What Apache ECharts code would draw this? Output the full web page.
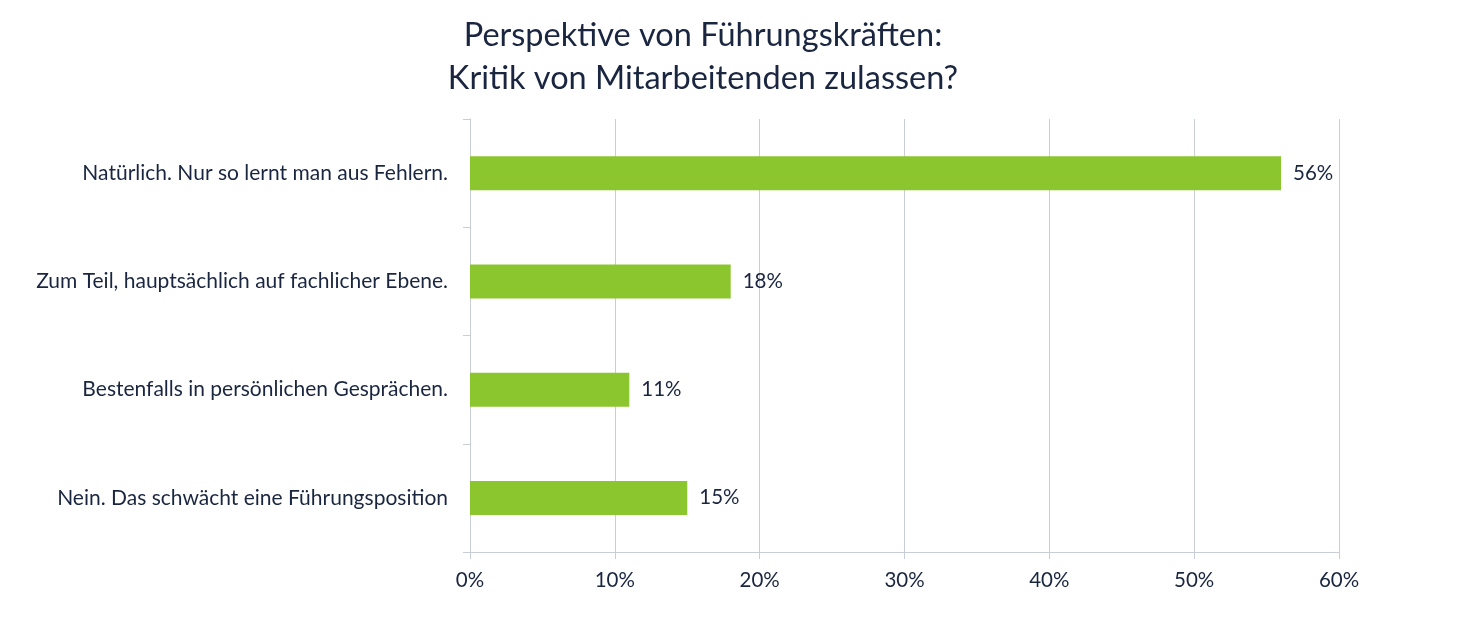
<!DOCTYPE html>
<html><head><meta charset="utf-8">
<script src="https://cdn.jsdelivr.net/npm/echarts@6/dist/echarts.min.js"></script>
<style>html,body{margin:0;padding:0;background:#fff}#c{width:1463px;height:626px}</style>
</head><body><div id="c"></div>
<script>
const titleLines = ["Perspektive von Führungskräften:", "Kritik von Mitarbeitenden zulassen?"];
const categories = [
  "Natürlich. Nur so lernt man aus Fehlern.",
  "Zum Teil, hauptsächlich auf fachlicher Ebene.",
  "Bestenfalls in persönlichen Gesprächen.",
  "Nein. Das schwächt eine Führungsposition"
];
const values = [56, 18, 11, 15];
const xTicks = [0, 10, 20, 30, 40, 50, 60];

const textColor = '#1a2640';
const axisColor = '#c9ced6';
const font = 'Lato, "Noto Sans", sans-serif';
const chart = echarts.init(document.getElementById('c'), null, {renderer: 'canvas'});
chart.setOption({
  animation: false,
  title: {
    text: titleLines.join('\n'),
    left: 698, top: 9, textAlign: 'center',
    textStyle: {fontFamily: font, fontSize: 32.5, fontWeight: 'normal', color: textColor, lineHeight: 43}
  },
  grid: {left: 470, right: 124, top: 119, bottom: 74, containLabel: false},
  xAxis: {
    type: 'value', min: xTicks[0], max: xTicks[xTicks.length - 1], interval: 10,
    axisLine: {show: true, lineStyle: {color: axisColor, width: 1}},
    axisTick: {show: true, length: 7, lineStyle: {color: axisColor}},
    splitLine: {show: true, lineStyle: {color: axisColor, width: 1}},
    axisLabel: {formatter: v => v + '%', fontFamily: font, fontSize: 20.5, color: textColor, margin: 18}
  },
  yAxis: {
    type: 'category', data: categories, inverse: true,
    axisLine: {show: true, lineStyle: {color: axisColor}},
    axisTick: {show: true, length: 7, alignWithLabel: false, lineStyle: {color: axisColor}},
    axisLabel: {fontFamily: font, fontSize: 21, color: textColor, margin: 22}
  },
  series: [{
    type: 'bar', data: values, barWidth: 34,
    itemStyle: {color: '#8cc62e'},
    label: {show: true, position: 'right', distance: 12, formatter: p => p.value + '%',
      fontFamily: font, fontSize: 20.5, color: textColor}
  }]
});
</script></body></html>
